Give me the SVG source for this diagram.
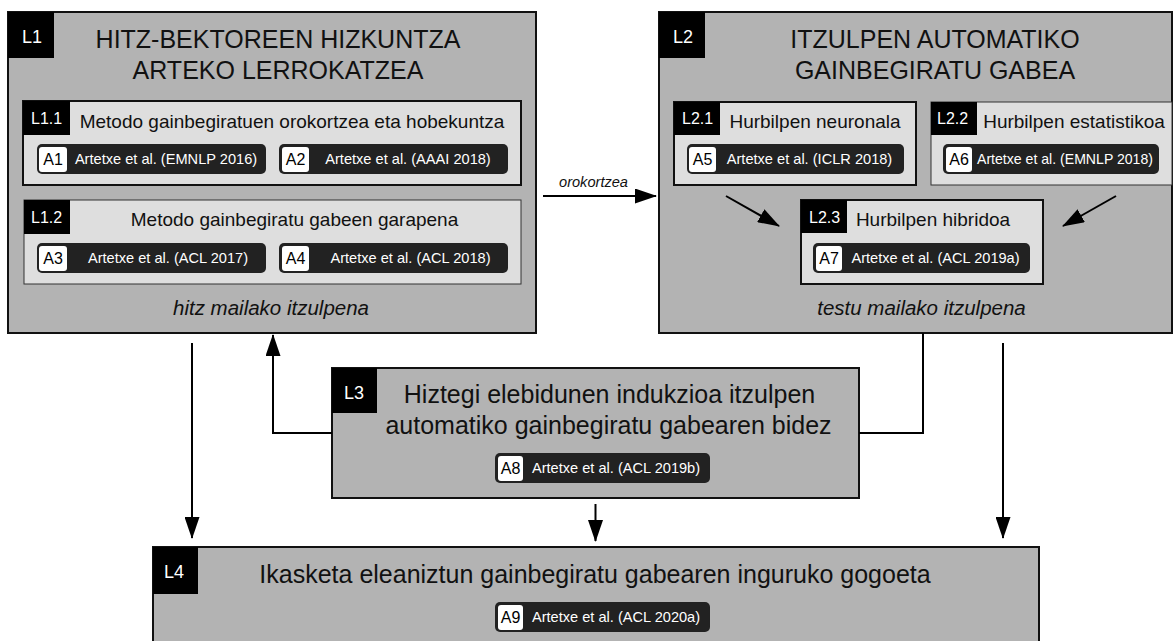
<svg xmlns="http://www.w3.org/2000/svg" width="1174" height="641" viewBox="0 0 1174 641">
<defs>
<style>
.outer{fill:#b3b3b3;stroke:#111;stroke-width:2}
.inner{fill:#dedede;stroke:#111;stroke-width:2}
.innerthin{fill:#dedede;stroke:#333;stroke-width:1}
.tag{fill:#000}
.pill{fill:#222}
.chip{fill:#fff}
text{font-family:"Liberation Sans",Arial,sans-serif}
.title{font-size:25px;fill:#111;text-anchor:middle}
.head{font-size:19px;fill:#111;text-anchor:middle}
.note{font-size:20.5px;fill:#111;font-style:italic;text-anchor:middle}
.tagt{font-size:18px;fill:#fff}
.tagts{font-size:16px;fill:#fff}
.chipt{font-size:16px;fill:#000;text-anchor:middle}
.pillt{font-size:14.6px;fill:#fff;text-anchor:middle}
.edge{fill:none;stroke:#000;stroke-width:2}
.elabel{font-size:14.6px;font-style:italic;fill:#111;text-anchor:middle}
</style>
<marker id="arr" viewBox="0 0 22 15" refX="21" refY="7.5" markerWidth="22" markerHeight="15" markerUnits="userSpaceOnUse" orient="auto">
<path d="M0,0 L22,7.5 L0,15 z" fill="#000"/>
</marker>
</defs>

<g id="L1">
<rect class="outer" x="8" y="12" width="528" height="321"/>
<rect class="tag" x="8" y="12" width="46" height="46"/>
<text class="tagt" x="22" y="43">L1</text>
<text class="title" x="278" y="48">HITZ-BEKTOREEN HIZKUNTZA</text>
<text class="title" x="278" y="79">ARTEKO LERROKATZEA</text>
<text class="note" x="271" y="315">hitz mailako itzulpena</text>
</g>

<g id="L1.1">
<rect class="inner" x="23" y="101" width="498" height="84"/>
<rect class="tag" x="23" y="101" width="47" height="34"/>
<text class="tagts" x="31" y="124">L1.1</text>
<text class="head" x="292" y="128">Metodo gainbegiratuen orokortzea eta hobekuntza</text>
</g>
<g id="A1">
<rect class="pill" x="37" y="144" width="229" height="30" rx="5"/>
<rect class="chip" x="39" y="147" width="28" height="25" rx="3"/>
<text class="chipt" x="53" y="165">A1</text>
<text class="pillt" x="166" y="164">Artetxe et al. (EMNLP 2016)</text>
</g>
<g id="A2">
<rect class="pill" x="279" y="144" width="229" height="30" rx="5"/>
<rect class="chip" x="282" y="147" width="27" height="25" rx="3"/>
<text class="chipt" x="295.5" y="165">A2</text>
<text class="pillt" x="408" y="164">Artetxe et al. (AAAI 2018)</text>
</g>

<g id="L1.2">
<rect class="innerthin" x="24" y="200" width="497" height="84"/>
<rect class="tag" x="24" y="200" width="46" height="34"/>
<text class="tagts" x="31" y="223">L1.2</text>
<text class="head" x="294.5" y="226">Metodo gainbegiratu gabeen garapena</text>
</g>
<g id="A3">
<rect class="pill" x="37" y="243" width="229" height="30" rx="5"/>
<rect class="chip" x="39" y="246" width="28" height="25" rx="3"/>
<text class="chipt" x="53" y="264">A3</text>
<text class="pillt" x="168" y="263">Artetxe et al. (ACL 2017)</text>
</g>
<g id="A4">
<rect class="pill" x="279" y="243" width="229" height="30" rx="5"/>
<rect class="chip" x="282" y="246" width="27" height="25" rx="3"/>
<text class="chipt" x="295.5" y="264">A4</text>
<text class="pillt" x="410.5" y="263">Artetxe et al. (ACL 2018)</text>
</g>

<g id="L2">
<rect class="outer" x="659" y="12" width="513" height="321"/>
<rect class="tag" x="659" y="12" width="46" height="46"/>
<text class="tagt" x="673" y="43">L2</text>
<text class="title" x="935" y="48">ITZULPEN AUTOMATIKO</text>
<text class="title" x="935" y="79">GAINBEGIRATU GABEA</text>
<text class="note" x="921.5" y="315">testu mailako itzulpena</text>
</g>

<g id="L2.1">
<rect class="inner" x="674" y="102" width="242" height="83"/>
<rect class="tag" x="674" y="102" width="46" height="33"/>
<text class="tagts" x="682" y="124">L2.1</text>
<text class="head" x="815" y="128">Hurbilpen neuronala</text>
</g>
<g id="A5">
<rect class="pill" x="687" y="144" width="217" height="30" rx="5"/>
<rect class="chip" x="689" y="147" width="27" height="25" rx="3"/>
<text class="chipt" x="702.5" y="165">A5</text>
<text class="pillt" x="809.5" y="164">Artetxe et al. (ICLR 2018)</text>
</g>

<g id="L2.2">
<rect class="innerthin" x="931" y="102" width="241" height="83"/>
<rect class="tag" x="931" y="102" width="46" height="33"/>
<text class="tagts" x="937" y="124">L2.2</text>
<text class="head" x="1074" y="128">Hurbilpen estatistikoa</text>
</g>
<g id="A6">
<rect class="pill" x="943" y="144" width="216" height="30" rx="5"/>
<rect class="chip" x="946" y="147" width="26" height="25" rx="3"/>
<text class="chipt" x="959" y="165">A6</text>
<text class="pillt" x="1065" y="164" style="font-size:14.1px">Artetxe et al. (EMNLP 2018)</text>
</g>

<g id="L2.3">
<rect class="inner" x="801" y="200" width="242" height="84"/>
<rect class="tag" x="801" y="200" width="46" height="33"/>
<text class="tagts" x="809" y="223">L2.3</text>
<text class="head" x="933" y="226">Hurbilpen hibridoa</text>
</g>
<g id="A7">
<rect class="pill" x="813" y="243" width="217" height="30" rx="5"/>
<rect class="chip" x="816" y="246" width="26" height="25" rx="3"/>
<text class="chipt" x="829" y="264">A7</text>
<text class="pillt" x="935.5" y="263">Artetxe et al. (ACL 2019a)</text>
</g>

<g id="L3">
<rect class="outer" x="332" y="368" width="527" height="130"/>
<rect class="tag" x="332" y="368" width="45" height="45"/>
<text class="tagt" x="344" y="399">L3</text>
<text class="title" x="609.5" y="403">Hiztegi elebidunen indukzioa itzulpen</text>
<text class="title" x="608.5" y="434">automatiko gainbegiratu gabearen bidez</text>
</g>
<g id="A8">
<rect class="pill" x="495" y="453" width="215" height="30" rx="5"/>
<rect class="chip" x="498" y="456" width="25" height="25" rx="3"/>
<text class="chipt" x="510.5" y="474">A8</text>
<text class="pillt" x="616" y="473">Artetxe et al. (ACL 2019b)</text>
</g>

<g id="L4">
<rect class="outer" x="153" y="547" width="886" height="110"/>
<rect class="tag" x="153" y="547" width="45" height="47"/>
<text class="tagt" x="164" y="578">L4</text>
<text class="title" x="595" y="583">Ikasketa eleaniztun gainbegiratu gabearen inguruko gogoeta</text>
</g>
<g id="A9">
<rect class="pill" x="495" y="602" width="215" height="30" rx="5"/>
<rect class="chip" x="498" y="605" width="25" height="25" rx="3"/>
<text class="chipt" x="510.5" y="623">A9</text>
<text class="pillt" x="616" y="622">Artetxe et al. (ACL 2020a)</text>
</g>

<g id="connectors">
<line class="edge" x1="543" y1="196" x2="656" y2="196" marker-end="url(#arr)"/>
<text class="elabel" x="593.5" y="187">orokortzea</text>
<line class="edge" x1="726" y1="196" x2="779" y2="226" marker-end="url(#arr)"/>
<line class="edge" x1="1116" y1="196" x2="1063" y2="226" marker-end="url(#arr)"/>
<polyline class="edge" points="332,433 273,433 273,335" marker-end="url(#arr)"/>
<polyline class="edge" points="859,433 923,433 923,333"/>
<line class="edge" x1="192" y1="343" x2="192" y2="538" marker-end="url(#arr)"/>
<line class="edge" x1="1003" y1="343" x2="1003" y2="538" marker-end="url(#arr)"/>
<line class="edge" x1="595.5" y1="504" x2="595.5" y2="541" marker-end="url(#arr)"/>
</g>
</svg>
